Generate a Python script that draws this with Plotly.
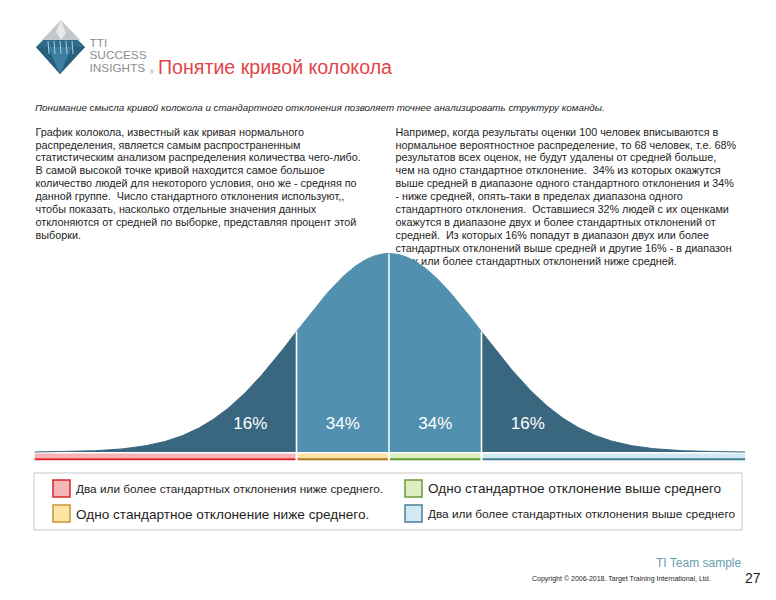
import numpy as np
import plotly.graph_objects as go

W, H = 776, 600

# ---------------- data ----------------
segment_labels = ["16%", "34%", "34%", "16%"]
segment_bounds = [-3.83, -1.0, 0.0, 1.0, 3.85]      # standard deviations
label_centers = [-1.5, -0.5, 0.5, 1.5]
segment_fill = ["#3a6780", "#5190ae", "#5190ae", "#3a6780"]
band_light = ["#f7b4b6", "#fbe3a3", "#dcedbe", "#d2e8f2"]
band_dark = ["#de2229", "#b0761c", "#5d9a2c", "#3b7c90"]

legend_texts = [
    "Два или более стандартных отклонения ниже среднего.",
    "Одно стандартное отклонение ниже среднего.",
    "Одно стандартное отклонение выше среднего",
    "Два или более стандартных отклонения выше среднего",
]
legend_fill = ["#f6b5b7", "#fde5a6", "#ddefc2", "#d2e9f4"]
legend_border = ["#d9262b", "#c8953a", "#6b9a3a", "#4a7f95"]

logo_lines = ["TTI", "SUCCESS", "INSIGHTS"]

left_lines = [
    "График колокола, известный как кривая нормального",
    "распределения, является самым распространенным",
    "статистическим анализом распределения количества чего-либо.",
    "В самой высокой точке кривой находится самое большое",
    "количество людей для некоторого условия, оно же - средняя по",
    "данной группе.  Число стандартного отклонения используют,,",
    "чтобы показать, насколько отдельные значения данных",
    "отклоняются от средней по выборке, представляя процент этой",
    "выборки.",
]
right_lines = [
    "Например, когда результаты оценки 100 человек вписываются в",
    "нормальное вероятностное распределение, то 68 человек, т.е. 68%",
    "результатов всех оценок, не будут удалены от средней больше,",
    "чем на одно стандартное отклонение.  34% из которых окажутся",
    "выше средней в диапазоне одного стандартного отклонения и 34%",
    "- ниже средней, опять-таки в пределах диапазона одного",
    "стандартного отклонения.  Оставшиеся 32% людей с их оценками",
    "окажутся в диапазоне двух и более стандартных отклонений от",
    "средней.  Из которых 16% попадут в диапазон двух или более",
    "стандартных отклонений выше средней и другие 16% - в диапазон",
    "двух или более стандартных отклонений ниже средней.",
]

# ---------------- layout helpers ----------------
M, S = 389.0, 92.5          # mean pixel, pixels per sigma
B, K = 452.0, 497.6         # baseline pixel, pixels per pdf unit
FONT = "Liberation Sans, Arial, sans-serif"


def dx(px):
    return (px - M) / S


def dy(py):
    return (B - py) / K


def pxp(px):
    return px / W


def pyp(py):
    return 1 - py / H


def pdf(z):
    return np.exp(-0.5 * z ** 2) / np.sqrt(2 * np.pi)


fig = go.Figure()

# logo wordmark
fig.add_trace(go.Scatter(
    x=[dx(89.5)] * 3, y=[dy(44), dy(56.5), dy(69)], text=logo_lines,
    mode="text", textposition="middle right",
    textfont=dict(family=FONT, size=11.8, color="#8b8d90"),
    hoverinfo="skip", showlegend=False))

# paragraphs (drawn first so the curve covers them)
LS = 12.9
for lines, x0 in ((left_lines, 35.5), (right_lines, 395.5)):
    ys = [133 + i * LS for i in range(len(lines))]
    fig.add_trace(go.Scatter(
        x=[dx(x0)] * len(lines), y=[dy(v) for v in ys], text=lines,
        mode="text", textposition="middle right",
        textfont=dict(family=FONT, size=10.8, color="#1e1e1e"),
        hoverinfo="skip", showlegend=False))

# bell curve segments
for i in range(4):
    a, b = segment_bounds[i], segment_bounds[i + 1]
    xs = np.linspace(a, b, 160)
    ys = pdf(xs)
    fig.add_trace(go.Scatter(
        x=np.concatenate([[a], xs, [b]]), y=np.concatenate([[0], ys, [0]]),
        fill="toself", fillcolor=segment_fill[i], mode="lines",
        line=dict(color=segment_fill[i], width=1),
        hoverinfo="skip", showlegend=False))

# divider lines
for z, col, wd in ((-1.0, "#ffffff", 1.6), (0.0, "#cde6f3", 2.0), (1.0, "#ffffff", 1.6)):
    fig.add_trace(go.Scatter(x=[z, z], y=[0, pdf(z)], mode="lines",
                             line=dict(color=col, width=wd),
                             hoverinfo="skip", showlegend=False))

# percentage labels
fig.add_trace(go.Scatter(
    x=label_centers, y=[dy(425)] * 4, text=segment_labels, mode="text",
    textposition="middle center",
    textfont=dict(family=FONT, size=17, color="#ffffff"),
    hoverinfo="skip", showlegend=False))

shapes = []
# colour bands under the curve
g = 1.0 / S
for i in range(4):
    a, b = segment_bounds[i], segment_bounds[i + 1]
    x0 = a + (g if i > 0 else 0)
    x1 = b - (g if i < 3 else 0)
    shapes.append(dict(type="rect", xref="x", yref="paper", x0=x0, x1=x1,
                       y0=pyp(458.2), y1=pyp(453.4), fillcolor=band_light[i],
                       line=dict(width=0), layer="above"))
    shapes.append(dict(type="rect", xref="x", yref="paper", x0=x0, x1=x1,
                       y0=pyp(460.2), y1=pyp(458.2), fillcolor=band_dark[i],
                       line=dict(width=0), layer="above"))

# legend box
shapes.append(dict(type="rect", xref="paper", yref="paper",
                   x0=pxp(34), x1=pxp(742), y0=pyp(530), y1=pyp(473),
                   line=dict(color="#c9c9c9", width=1), fillcolor="rgba(0,0,0,0)"))
sw_pos = [(53, 480), (53, 505), (405, 480), (405, 505)]
for (sx, sy), fc, bc in zip(sw_pos, legend_fill, legend_border):
    shapes.append(dict(type="rect", xref="paper", yref="paper",
                       x0=pxp(sx), x1=pxp(sx + 17), y0=pyp(sy + 17), y1=pyp(sy),
                       fillcolor=fc, line=dict(color=bc, width=1.5)))


def path(pts):
    s = "M " + " L ".join(f"{pxp(x):.5f},{pyp(y):.5f}" for x, y in pts) + " Z"
    return s


# logo (diamond)
shapes.append(dict(type="path", xref="paper", yref="paper",
                   path=path([(61, 20), (80, 40), (42, 40)]),
                   fillcolor="#c4c7cb", line=dict(width=0)))
shapes.append(dict(type="path", xref="paper", yref="paper",
                   path=path([(61, 20), (66, 33), (61, 40), (56, 32)]),
                   fillcolor="#e6e8ea", line=dict(width=0)))
shapes.append(dict(type="path", xref="paper", yref="paper",
                   path=path([(43, 40), (78, 40), (85, 47), (60, 74), (36, 47)]),
                   fillcolor="#2f6c8c", line=dict(width=0)))
shapes.append(dict(type="path", xref="paper", yref="paper",
                   path=path([(36, 47), (85, 47), (60, 74)]),
                   fillcolor="#285f7c", line=dict(width=0)))
shapes.append(dict(type="path", xref="paper", yref="paper",
                   path=path([(48, 47), (72, 47), (60, 74)]),
                   fillcolor="#3d7fa0", line=dict(width=0)))
for lx in (48, 54, 60, 66, 72):
    shapes.append(dict(type="line", xref="paper", yref="paper",
                       x0=pxp(lx), x1=pxp(lx + 1), y0=pyp(41), y1=pyp(54),
                       line=dict(color="#a9cfe2", width=1)))

ann = []


def A(px, py, text, size, color="#1e1e1e", anchor="left", italic=False, yanchor="middle"):
    ann.append(dict(xref="paper", yref="paper", x=pxp(px), y=pyp(py), text=text,
                    showarrow=False, xanchor=anchor, yanchor=yanchor, align="left",
                    borderpad=0,
                    font=dict(family=FONT, size=size, color=color,
                              style="italic" if italic else "normal")))


A(149, 72, "®", 5, "#8b8d90")
A(157, 67, "Понятие кривой колокола", 19.6, "#e0454a")
A(34, 108, "Понимание смысла кривой колокола и стандартного отклонения позволяет точнее анализировать структуру команды.", 9.8, "#1e1e1e", italic=True)

A(75, 489, legend_texts[0], 11.8)
A(75, 514, legend_texts[1], 13.6)
A(427, 489, legend_texts[2], 13.6)
A(427, 514, legend_texts[3], 11.8)

A(742, 563, "TI Team sample", 12, "#6a9db3", anchor="right")
A(712, 579, "Copyright © 2006-2018. Target Training International, Ltd.", 7, "#1e1e1e", anchor="right")
A(744, 578, "27", 14, "#1e1e1e")

fig.update_layout(
    width=W, height=H, margin=dict(l=0, r=0, t=0, b=0),
    paper_bgcolor="white", plot_bgcolor="white",
    xaxis=dict(range=[dx(0), dx(W)], visible=False, fixedrange=True),
    yaxis=dict(range=[dy(H), dy(0)], visible=False, fixedrange=True),
    shapes=shapes, annotations=ann, showlegend=False,
)

fig.write_html("out.html", config={"displayModeBar": False})
